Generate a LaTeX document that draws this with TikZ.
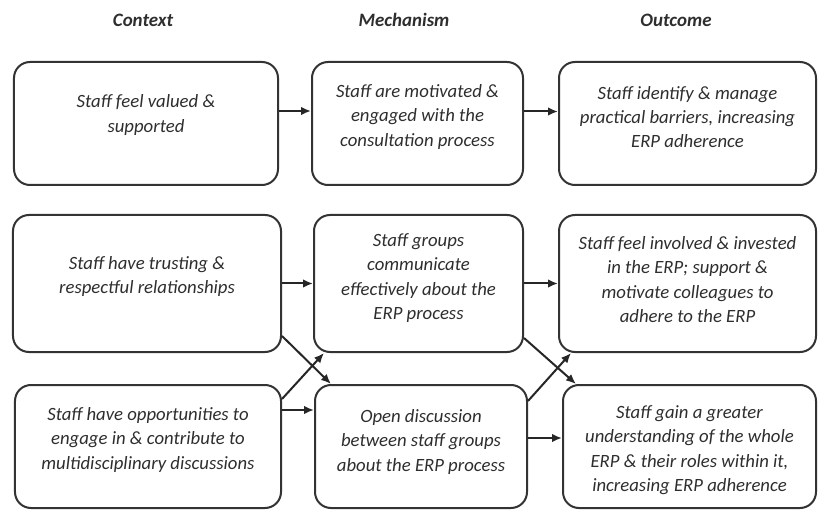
\documentclass[tikz,border=0pt]{standalone}
\usepackage{fontspec}
\setmainfont{Carlito}
\usetikzlibrary{arrows.meta}
\definecolor{ink}{HTML}{333333}
\definecolor{txt}{HTML}{2E2E2E}
\tikzset{
  box/.style={draw=ink, line width=2bp, rounded corners=16bp, inner sep=0pt},
  lbl/.style={align=center, text=txt, font=\fontsize{18.8}{24.5}\selectfont\itshape, inner sep=0pt},
  head/.style={text=txt, font=\fontsize{19}{22}\selectfont\bfseries\itshape, inner sep=0pt},
  arr/.style={draw=black!85, line width=2bp, -{Latex[length=10bp,width=8.5bp]}}
}
\begin{document}
\begin{tikzpicture}[x=1bp, y=-1bp]
  \path[use as bounding box] (0,0) rectangle (818,511);

  % column headings
  \node[head] (hc) at (143,20) {Context};
  \node[head] (hm) at (404,20) {Mechanism};
  \node[head] (ho) at (676,20) {Outcome};

  % row 1
  \node[box, minimum width=264bp, minimum height=123bp] (c1) at (146,123.5) {};
  \node[box, minimum width=211bp, minimum height=123bp] (m1) at (417.5,123.5) {};
  \node[box, minimum width=257bp, minimum height=123bp] (o1) at (687.5,123.5) {};
  \node[lbl] (tc1) at (146,115) {Staff feel valued \&\\ supported};
  \node[lbl] (tm1) at (417.5,117) {Staff are motivated \&\\ engaged with the\\ consultation process};
  \node[lbl] (to1) at (687.5,117) {Staff identify \& manage\\ practical barriers, increasing\\ ERP adherence};

  % row 2
  \node[box, minimum width=268bp, minimum height=137bp] (c2) at (147,283.5) {};
  \node[box, minimum width=209bp, minimum height=137bp] (m2) at (418.5,283.5) {};
  \node[box, minimum width=257bp, minimum height=137bp] (o2) at (687.5,283.5) {};
  \node[lbl] (tc2) at (147,276.5) {Staff have trusting \&\\ respectful relationships};
  \node[lbl] (tm2) at (418.5,278) {Staff groups\\ communicate\\ effectively about the\\ ERP process};
  \node[lbl] (to2) at (687.5,279.5) {Staff feel involved \& invested\\ in the ERP; support \&\\ motivate colleagues to\\ adhere to the ERP};

  % row 3
  \node[box, minimum width=266bp, minimum height=123bp] (c3) at (148,446.5) {};
  \node[box, minimum width=212bp, minimum height=123bp] (m3) at (421,446.5) {};
  \node[box, minimum width=253bp, minimum height=123bp] (o3) at (689.5,446.5) {};
  \node[lbl] (tc3) at (148,440) {Staff have opportunities to\\ engage in \& contribute to\\ multidisciplinary discussions};
  \node[lbl] (tm3) at (421,442) {Open discussion\\ between staff groups\\ about the ERP process};
  \node[lbl] (to3) at (689.5,450) {Staff gain a greater\\ understanding of the whole\\ ERP \& their roles within it,\\ increasing ERP adherence};

  % straight links
  \draw[arr] ([yshift=12.5bp]c1.east) -- ([yshift=12.5bp]c1.east -| m1.west);
  \draw[arr] ([yshift=12bp]m1.east) -- ([yshift=12bp]m1.east -| o1.west);
  \draw[arr] (c2.east) -- (c2.east -| m2.west);
  \draw[arr] (m2.east) -- (m2.east -| o2.west);
  \draw[arr] ([yshift=36.5bp]c3.east) -- ([yshift=36.5bp]c3.east -| m3.west);
  \draw[arr] ([yshift=8.5bp]m3.east) -- ([yshift=8.5bp]m3.east -| o3.west);

  % crossing links
  \draw[arr] ([yshift=17bp]c2.south east) -- ([xshift=17bp]m3.north west);
  \draw[arr] ([yshift=-15bp]c3.north east) -- ([xshift=11bp]m2.south west);
  \draw[arr] ([yshift=15bp]m2.south east) -- ([xshift=14bp]o3.north west);
  \draw[arr] ([yshift=-17bp]m3.north east) -- ([xshift=13bp]o2.south west);
\end{tikzpicture}
\end{document}
